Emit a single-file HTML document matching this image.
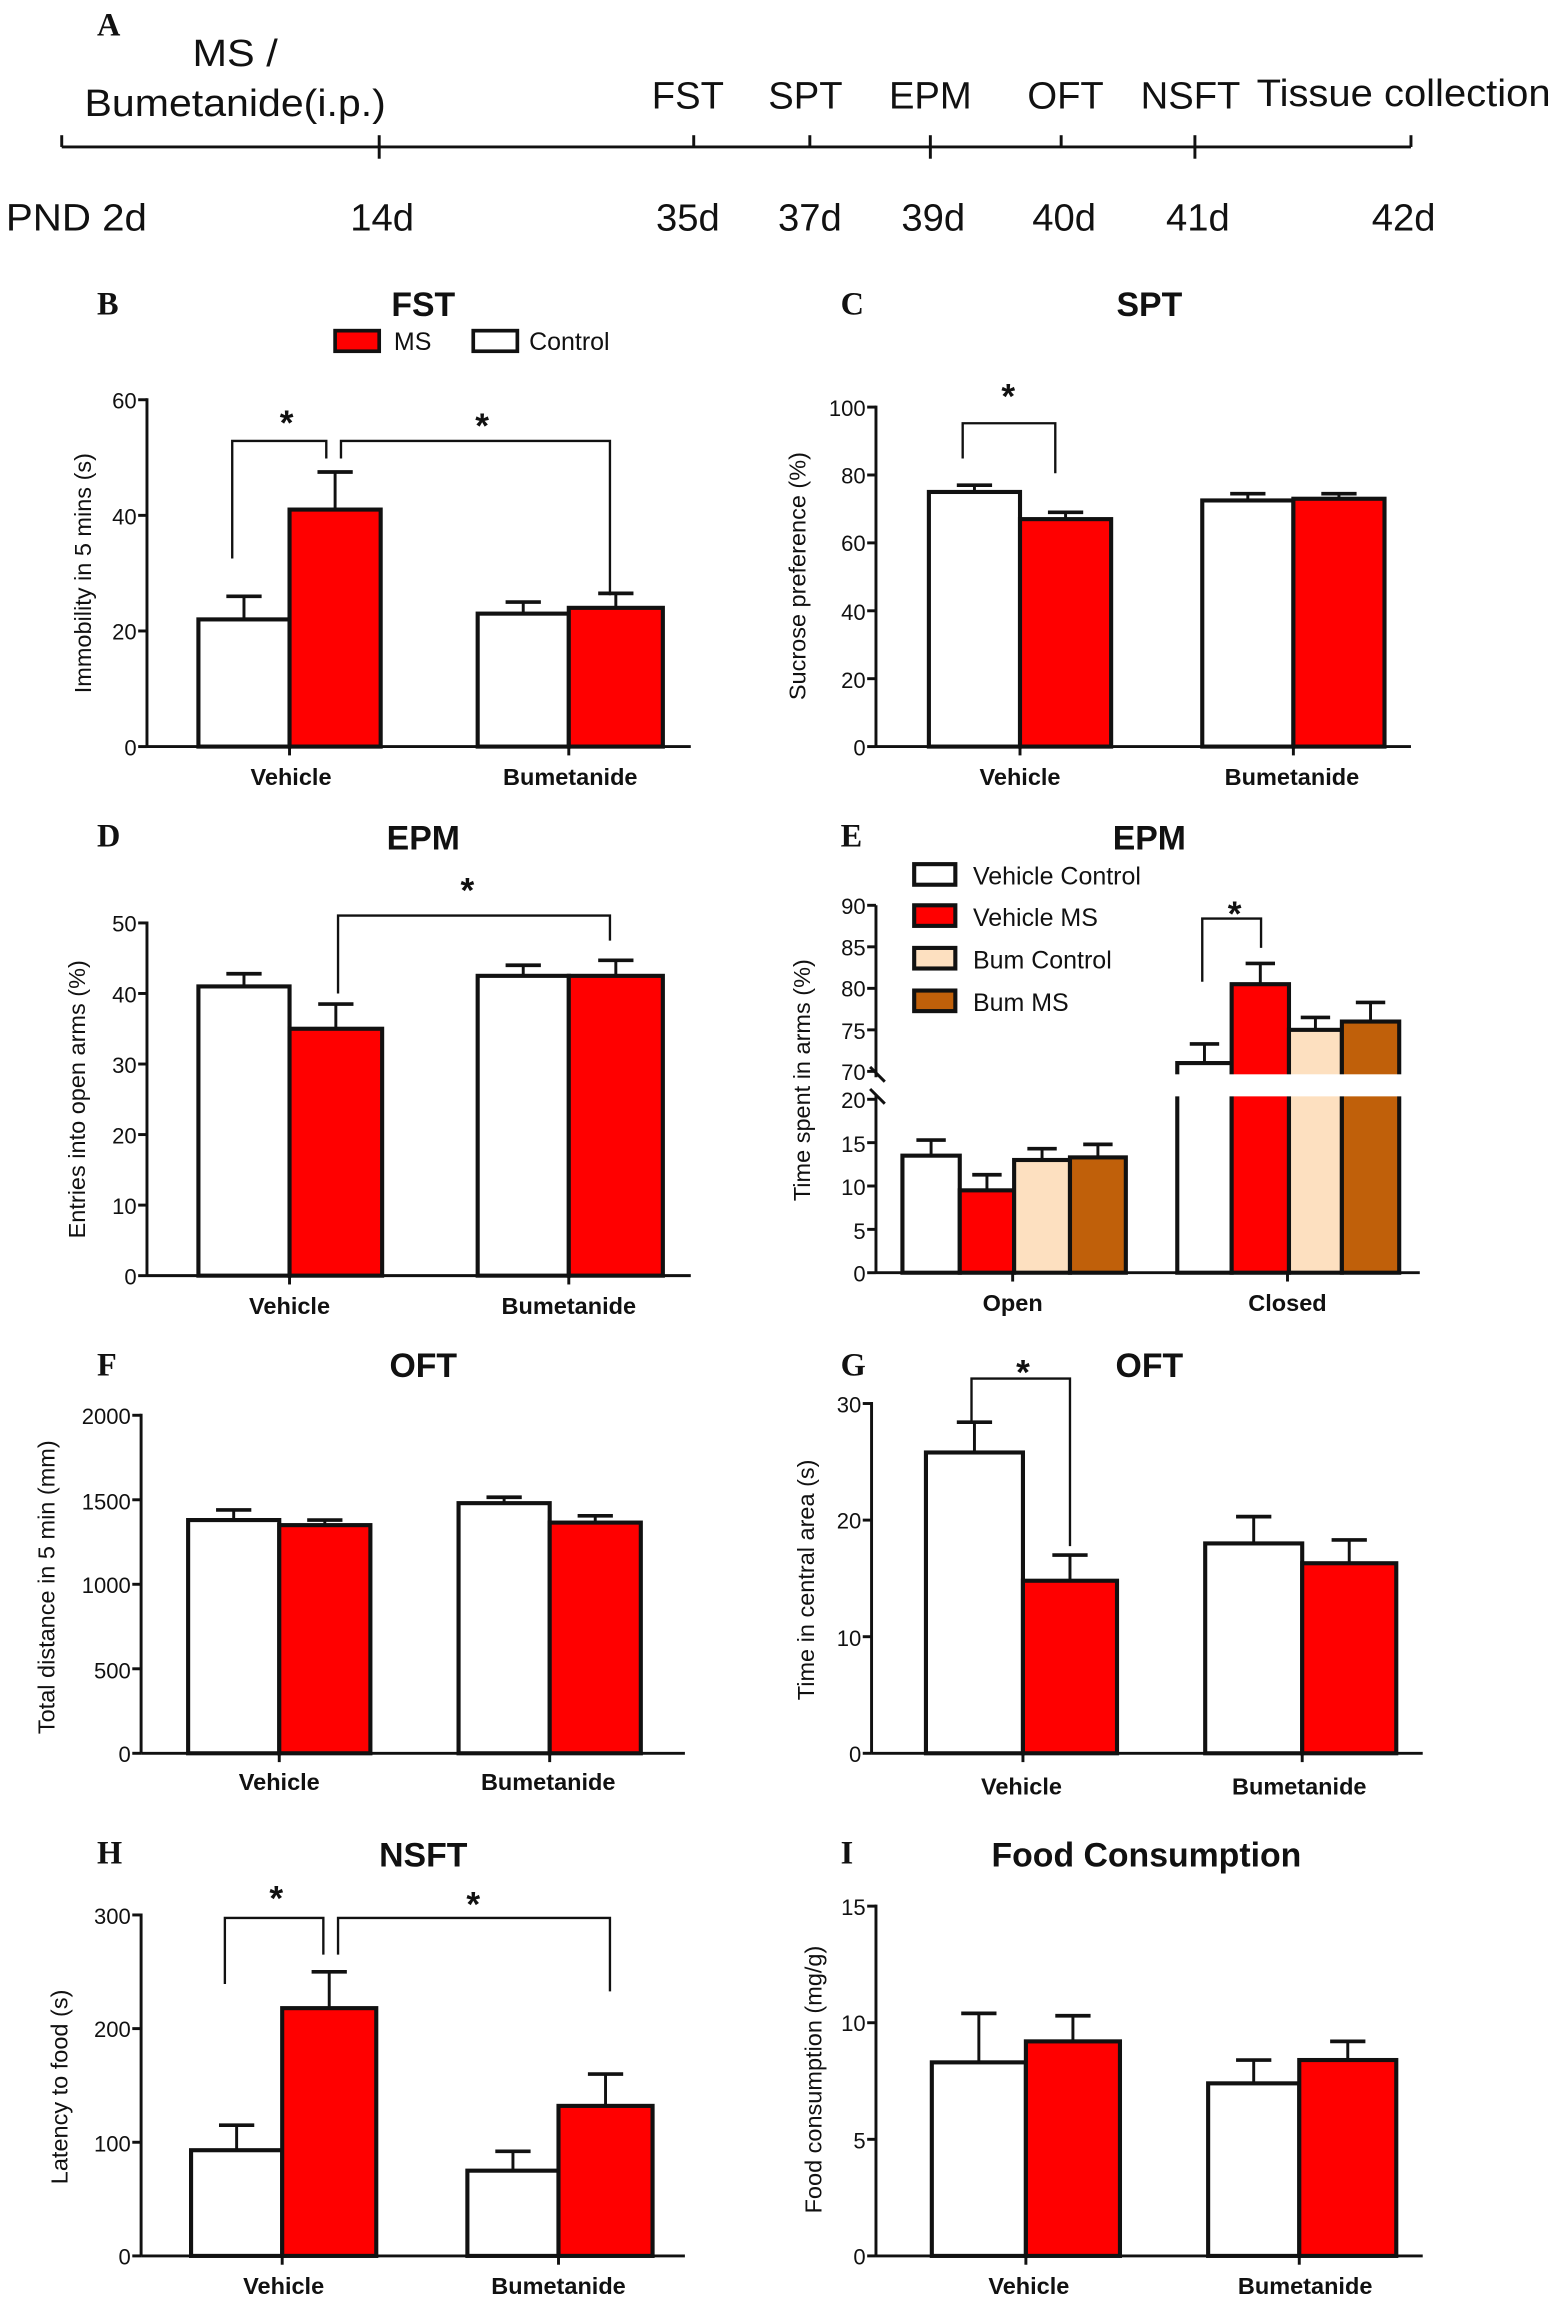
<!DOCTYPE html>
<html><head><meta charset="utf-8">
<style>
html,body{margin:0;padding:0;background:#fff;}
svg{display:block;}
text{font-family:"Liberation Sans",Arial,sans-serif;fill:#111;}
.tl{font-size:26px;}
.pl{font-family:"Liberation Serif",serif;font-weight:bold;font-size:22px;}
.ti{font-size:23px;font-weight:bold;}
.tk{font-size:15px;text-anchor:end;}
.yl{font-size:16px;text-anchor:middle;}
.xl{font-size:16px;font-weight:bold;text-anchor:middle;}
.st{font-size:24px;font-weight:bold;text-anchor:middle;}
.lg{font-size:17px;}
</style></head>
<body>
<svg id="s" width="1555" height="2300" viewBox="0 0 1058 1565" preserveAspectRatio="none" xmlns="http://www.w3.org/2000/svg">
<g id="g"></g>
<text class="pl" x="66" y="24">A</text>
<text class="tl" x="160" y="45" text-anchor="middle" textLength="58" lengthAdjust="spacingAndGlyphs">MS /</text>
<text class="tl" x="160" y="79" text-anchor="middle" textLength="205" lengthAdjust="spacingAndGlyphs">Bumetanide(i.p.)</text>
<text class="tl" x="468" y="74" text-anchor="middle">FST</text>
<text class="tl" x="548" y="74" text-anchor="middle">SPT</text>
<text class="tl" x="633" y="74" text-anchor="middle">EPM</text>
<text class="tl" x="725" y="74" text-anchor="middle">OFT</text>
<text class="tl" x="810" y="74" text-anchor="middle">NSFT</text>
<text class="tl" x="955" y="72" text-anchor="middle" textLength="200" lengthAdjust="spacingAndGlyphs">Tissue collection</text>
<text class="tl" x="52" y="157" text-anchor="middle" textLength="96" lengthAdjust="spacingAndGlyphs">PND 2d</text>
<text class="tl" x="260" y="157" text-anchor="middle">14d</text>
<text class="tl" x="468" y="157" text-anchor="middle">35d</text>
<text class="tl" x="551" y="157" text-anchor="middle">37d</text>
<text class="tl" x="635" y="157" text-anchor="middle">39d</text>
<text class="tl" x="724" y="157" text-anchor="middle">40d</text>
<text class="tl" x="815" y="157" text-anchor="middle">41d</text>
<text class="tl" x="955" y="157" text-anchor="middle">42d</text>

<text class="pl" x="66" y="214">B</text>
<text class="ti" x="288" y="215" text-anchor="middle">FST</text>
<text class="lg" x="268" y="238">MS</text>
<text class="lg" x="360" y="238">Control</text>
<text class="tk" x="93" y="278">60</text><text class="tk" x="93" y="357">40</text><text class="tk" x="93" y="435">20</text><text class="tk" x="93" y="514">0</text>
<text class="yl" transform="translate(62,390) rotate(-90)">Immobility in 5 mins (s)</text>
<text class="xl" x="198" y="534">Vehicle</text><text class="xl" x="388" y="534">Bumetanide</text>
<text class="st" x="195" y="296">*</text><text class="st" x="328" y="298">*</text>

<text class="pl" x="572" y="214">C</text>
<text class="ti" x="782" y="215" text-anchor="middle">SPT</text>
<text class="tk" x="589" y="283">100</text><text class="tk" x="589" y="329">80</text><text class="tk" x="589" y="375">60</text><text class="tk" x="589" y="422">40</text><text class="tk" x="589" y="468">20</text><text class="tk" x="589" y="514">0</text>
<text class="yl" transform="translate(548,392) rotate(-90)">Sucrose preference (%)</text>
<text class="xl" x="694" y="534">Vehicle</text><text class="xl" x="879" y="534">Bumetanide</text>
<text class="st" x="686" y="278">*</text>

<text class="pl" x="66" y="576">D</text>
<text class="ti" x="288" y="578" text-anchor="middle">EPM</text>
<text class="tk" x="93" y="634">50</text><text class="tk" x="93" y="682">40</text><text class="tk" x="93" y="730">30</text><text class="tk" x="93" y="778">20</text><text class="tk" x="93" y="826">10</text><text class="tk" x="93" y="874">0</text>
<text class="yl" transform="translate(58,748) rotate(-90)">Entries into open arms (%)</text>
<text class="xl" x="197" y="894">Vehicle</text><text class="xl" x="387" y="894">Bumetanide</text>
<text class="st" x="318" y="614">*</text>

<text class="pl" x="572" y="576">E</text>
<text class="ti" x="782" y="578" text-anchor="middle">EPM</text>
<text class="lg" x="662" y="602">Vehicle Control</text>
<text class="lg" x="662" y="630">Vehicle MS</text>
<text class="lg" x="662" y="659">Bum Control</text>
<text class="lg" x="662" y="688">Bum MS</text>
<text class="tk" x="589" y="622">90</text><text class="tk" x="589" y="650">85</text><text class="tk" x="589" y="678">80</text><text class="tk" x="589" y="707">75</text><text class="tk" x="589" y="735">70</text>
<text class="tk" x="589" y="754">20</text><text class="tk" x="589" y="784">15</text><text class="tk" x="589" y="813">10</text><text class="tk" x="589" y="843">5</text><text class="tk" x="589" y="872">0</text>
<text class="yl" transform="translate(551,735) rotate(-90)">Time spent in arms (%)</text>
<text class="xl" x="689" y="892">Open</text><text class="xl" x="876" y="892">Closed</text>
<text class="st" x="840" y="630">*</text>

<text class="pl" x="66" y="936">F</text>
<text class="ti" x="288" y="937" text-anchor="middle">OFT</text>
<text class="tk" x="89" y="969">2000</text><text class="tk" x="89" y="1027">1500</text><text class="tk" x="89" y="1084">1000</text><text class="tk" x="89" y="1142">500</text><text class="tk" x="89" y="1199">0</text>
<text class="yl" transform="translate(37,1080) rotate(-90)">Total distance in 5 min (mm)</text>
<text class="xl" x="190" y="1218">Vehicle</text><text class="xl" x="373" y="1218">Bumetanide</text>

<text class="pl" x="572" y="936">G</text>
<text class="ti" x="782" y="937" text-anchor="middle">OFT</text>
<text class="tk" x="586" y="961">30</text><text class="tk" x="586" y="1040">20</text><text class="tk" x="586" y="1120">10</text><text class="tk" x="586" y="1199">0</text>
<text class="yl" transform="translate(554,1075) rotate(-90)">Time in central area (s)</text>
<text class="xl" x="695" y="1221">Vehicle</text><text class="xl" x="884" y="1221">Bumetanide</text>
<text class="st" x="696" y="942">*</text>

<text class="pl" x="66" y="1268">H</text>
<text class="ti" x="288" y="1270" text-anchor="middle">NSFT</text>
<text class="tk" x="89" y="1309">300</text><text class="tk" x="89" y="1386">200</text><text class="tk" x="89" y="1464">100</text><text class="tk" x="89" y="1541">0</text>
<text class="yl" transform="translate(46,1420) rotate(-90)">Latency to food (s)</text>
<text class="xl" x="193" y="1561">Vehicle</text><text class="xl" x="380" y="1561">Bumetanide</text>
<text class="st" x="188" y="1300">*</text><text class="st" x="322" y="1304">*</text>

<text class="pl" x="572" y="1268">I</text>
<text class="ti" x="780" y="1270" text-anchor="middle">Food Consumption</text>
<text class="tk" x="589" y="1303">15</text><text class="tk" x="589" y="1382">10</text><text class="tk" x="589" y="1462">5</text><text class="tk" x="589" y="1541">0</text>
<text class="yl" transform="translate(559,1415) rotate(-90)">Food consumption (mg/g)</text>
<text class="xl" x="700" y="1561">Vehicle</text><text class="xl" x="888" y="1561">Bumetanide</text>
</svg>
<script>
var g=document.getElementById('g'),NS='http://www.w3.org/2000/svg';
function el(t,a){var e=document.createElementNS(NS,t);for(var k in a)e.setAttribute(k,a[k]);g.appendChild(e);return e;}
function L(x1,y1,x2,y2,w){el('line',{x1:x1,y1:y1,x2:x2,y2:y2,stroke:'#111','stroke-width':w||2});}
function P(d,w){el('path',{d:d,fill:'none',stroke:'#111','stroke-width':w||1.6});}
var R='#ff0000',W='#ffffff',PE='#fde0c0',BR='#c0600a';
L(42,100,960,100,2);
[[42,92,100],[258,92,108],[472,92,100],[551,92,100],[633,92,108],[722,92,100],[813,92,108],[960,92,100]].forEach(function(t){L(t[0],t[1],t[0],t[2],2);});
el('rect',{x:228,y:225,width:30,height:14,fill:R,stroke:'#111','stroke-width':2.5});
el('rect',{x:322,y:225,width:30,height:14,fill:W,stroke:'#111','stroke-width':2.5});
function panel(o){
 var sc=(o.y0-o.yt)/(o.vmax);
 function Y(v){return o.y0-v*sc;}
 L(o.x0,o.yt-1,o.x0,o.y0,2);
 o.ticks.forEach(function(v){L(o.x0-6,Y(v),o.x0,Y(v),2);});
 L(o.x0,o.y0,o.xe,o.y0,2);
 o.xt.forEach(function(x){L(x,o.y0,x,o.y0+6,2);});
 o.bars.forEach(function(b){
   var yt=Y(b[2]),ye=Y(b[3]),xc=(b[0]+b[1])/2;
   L(xc,ye,xc,yt,2);L(xc-12,ye,xc+12,ye,2.5);
   el('rect',{x:b[0],y:yt,width:b[1]-b[0],height:o.y0-yt,fill:b[4],stroke:'#111','stroke-width':2.8});
 });
}
panel({x0:100,y0:508,yt:272,vmax:60,xe:470,ticks:[0,20,40,60],xt:[197,387],
 bars:[[135,197,22,26,W],[197,259,41,47.5,R],[325,387,23,25,W],[387,451,24,26.5,R]]});
P('M158,380 V300 H222 V312');P('M232,312 V300 H415 V405');
panel({x0:596,y0:508,yt:277,vmax:100,xe:960,ticks:[0,20,40,60,80,100],xt:[694,880],
 bars:[[632,694,75,77,W],[694,756,67,69,R],[818,880,72.5,74.5,W],[880,942,73,74.5,R]]});
P('M655,312 V288 H718 V322');
panel({x0:100,y0:868,yt:628,vmax:50,xe:470,ticks:[0,10,20,30,40,50],xt:[197,387],
 bars:[[135,197,41,42.8,W],[197,260,35,38.5,R],[325,387,42.5,44,W],[387,451,42.5,44.7,R]]});
P('M230,676 V623 H415 V640');
(function(){
 function Yl(v){return 866-v*5.9;} function Yu(v){return 729-(v-70)*5.65;}
 L(596,616,596,733,2);L(596,745,596,866,2);
 [70,75,80,85,90].forEach(function(v){L(590,Yu(v),596,Yu(v),2);});
 [0,5,10,15,20].forEach(function(v){L(590,Yl(v),596,Yl(v),2);});
 L(592,726,602,736,2);L(592,741,602,751,2);
 L(596,866,966,866,2);L(689,866,689,872,2);L(876,866,876,872,2);
 [[614,653,13.5,15.3,W],[653,690,9.5,11.3,R],[690,728,13,14.3,PE],[728,766,13.3,14.8,BR]].forEach(function(b){
  var yt=Yl(b[2]),ye=Yl(b[3]),xc=(b[0]+b[1])/2;L(xc,ye,xc,yt,2);L(xc-10,ye,xc+10,ye,2.5);
  el('rect',{x:b[0],y:yt,width:b[1]-b[0],height:866-yt,fill:b[4],stroke:'#111','stroke-width':2.8});});
 [[801,838,71,73.3,W],[838,877,80.5,83,R],[877,913,75,76.5,PE],[913,952,76,78.3,BR]].forEach(function(b){
  var yt=Yu(b[2]),ye=Yu(b[3]),xc=(b[0]+b[1])/2;L(xc,ye,xc,yt,2);L(xc-10,ye,xc+10,ye,2.5);
  el('rect',{x:b[0],y:yt,width:b[1]-b[0],height:866-yt,fill:b[4],stroke:'#111','stroke-width':2.8});});
 el('rect',{x:796,y:731,width:165,height:15,fill:'#fff'});
 P('M818,668 V625 H858 V645');
 [[R,622],[W,594],[PE,651],[BR,680]].forEach(function(q){el('rect',{x:622,y:q[1]-6,width:28,height:14,fill:q[0],stroke:'#111','stroke-width':2.8});});
})();
panel({x0:96,y0:1193,yt:963,vmax:2000,xe:466,ticks:[0,500,1000,1500,2000],xt:[190,374],
 bars:[[128,190,1380,1440,W],[190,252,1350,1380,R],[312,374,1480,1515,W],[374,436,1365,1405,R]]});
panel({x0:593,y0:1193,yt:955,vmax:30,xe:968,ticks:[0,10,20,30],xt:[696,886],
 bars:[[630,696,25.8,28.4,W],[696,760,14.8,17,R],[820,886,18,20.3,W],[886,950,16.3,18.3,R]]});
P('M661,968 V938 H728 V1052');
panel({x0:96,y0:1535,yt:1303,vmax:300,xe:466,ticks:[0,100,200,300],xt:[192,380],
 bars:[[130,192,93,115,W],[192,256,218,250,R],[318,380,75,92,W],[380,444,132,160,R]]});
P('M153,1350 V1305 H220 V1330');P('M230,1330 V1305 H415 V1355');
panel({x0:596,y0:1535,yt:1297,vmax:15,xe:968,ticks:[0,5,10,15],xt:[698,884],
 bars:[[634,698,8.3,10.4,W],[698,762,9.2,10.3,R],[822,884,7.4,8.4,W],[884,950,8.4,9.2,R]]});
</script>
</body></html>
